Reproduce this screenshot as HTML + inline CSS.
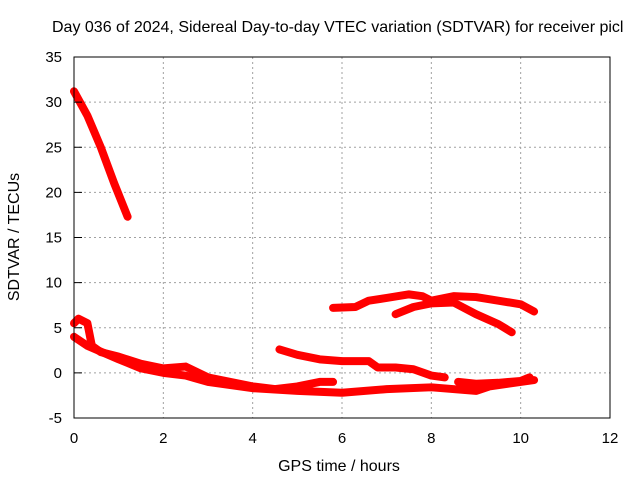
<!DOCTYPE html>
<html><head><meta charset="utf-8"><style>
body{margin:0;background:#fff;width:640px;height:480px;overflow:hidden}
svg{font-family:"Liberation Sans",sans-serif}
</style></head><body>
<svg id="chart" width="640" height="480" viewBox="0 0 640 480" xmlns="http://www.w3.org/2000/svg">
<text x="52" y="32" font-size="16" fill="#000">Day 036 of 2024, Sidereal Day-to-day VTEC variation (SDTVAR) for receiver picl</text>
<g id="grid"></g>
<g id="series"></g>
<rect x="74" y="57" width="536" height="361" fill="none" stroke="#000" stroke-width="1"/>
<g id="ticks"></g>
<text x="339" y="471" font-size="16" text-anchor="middle">GPS time / hours</text>
<text transform="translate(19,237) rotate(-90)" font-size="16" text-anchor="middle">SDTVAR / TECUs</text>
</svg>
<script>
const xTicks=[0,2,4,6,8,10,12];
const yTicks=[-5,0,5,10,15,20,25,30,35];
const seriesA=[[0,31.2],[0.3,28.5],[0.6,25],[0.9,21],[1.2,17.3]];
const seriesB1=[[0,5.5],[0.1,6],[0.3,5.5],[0.4,3],[0.6,2.3],[1,1.8],[1.5,1],[2,0.5],[2.5,0.7],[3,-0.5],[3.5,-1],[4,-1.5],[4.5,-1.8],[5,-1.5],[5.5,-1],[5.8,-1]];
const seriesB2=[[0,4],[0.3,3],[1,1.5],[1.5,0.5],[2,0],[2.5,-0.3],[3,-1],[4,-1.7],[5,-2],[6,-2.2],[7,-1.8],[8,-1.6],[9,-2],[9.3,-1.5],[10,-1],[10.3,-0.8]];
const seriesC=[[4.6,2.6],[5,2],[5.5,1.5],[6,1.3],[6.6,1.3],[6.8,0.6],[7.2,0.6],[7.6,0.4],[8,-0.3],[8.3,-0.5]];
const seriesD=[[5.8,7.2],[6.3,7.3],[6.6,8],[7,8.3],[7.5,8.7],[7.8,8.5],[8,8],[8.5,8.5],[9,8.4],[9.5,8],[10,7.6],[10.3,6.8]];
const seriesE=[[7.2,6.5],[7.6,7.3],[8,7.7],[8.5,7.8],[9,6.5],[9.5,5.4],[9.8,4.5]];
const seriesF=[[8.6,-1],[9,-1.2],[9.5,-1.1],[10,-0.9],[10.2,-0.5]];
const allSeries=[seriesA,seriesB1,seriesB2,seriesC,seriesD,seriesE,seriesF];
const X0=74,X1=610,Y0=418,Y1=57;
function sx(v){return X0+(v-0)/(12-0)*(X1-X0);}
function sy(v){return Y0-(v+5)/(35+5)*(Y0-Y1);}
const NS="http://www.w3.org/2000/svg";
const grid=document.getElementById('grid'),ticks=document.getElementById('ticks'),ser=document.getElementById('series');
function mk(tag,attrs,parent){const e=document.createElementNS(NS,tag);for(const k in attrs)e.setAttribute(k,attrs[k]);parent.appendChild(e);return e;}
xTicks.forEach(t=>{
 const x=sx(t);
 if(t>0&&t<12){const g=mk('line',{x1:x,x2:x,y1:Y1,y2:Y0,stroke:'#a0a0a0','stroke-dasharray':'2,3'},grid);
 
 }
 const l=mk('text',{x:x,y:443,'font-size':15,'text-anchor':'middle'},ticks);l.textContent=t;
 
 
});
yTicks.forEach(t=>{
 const y=sy(t);
 if(t>-5&&t<35){const g=mk('line',{x1:X0,x2:X1,y1:y,y2:y,stroke:'#a0a0a0','stroke-dasharray':'2,3'},grid);
 
 
 const tk=mk('line',{x1:X0,x2:X0+8,y1:y,y2:y,stroke:'#000'},ticks);
 
 }
 const l=mk('text',{x:62,y:y+5,'font-size':15,'text-anchor':'end'},ticks);l.textContent=t;
 
 
});
allSeries.forEach((s,i)=>{
 const p=mk('polyline',{points:s.map(d=>sx(d[0])+','+sy(d[1])).join(' '),fill:'none',stroke:'#ff0000','stroke-width':8,'stroke-linejoin':'round','stroke-linecap':'round'},ser);
 
 
});
</script>
</body></html>
